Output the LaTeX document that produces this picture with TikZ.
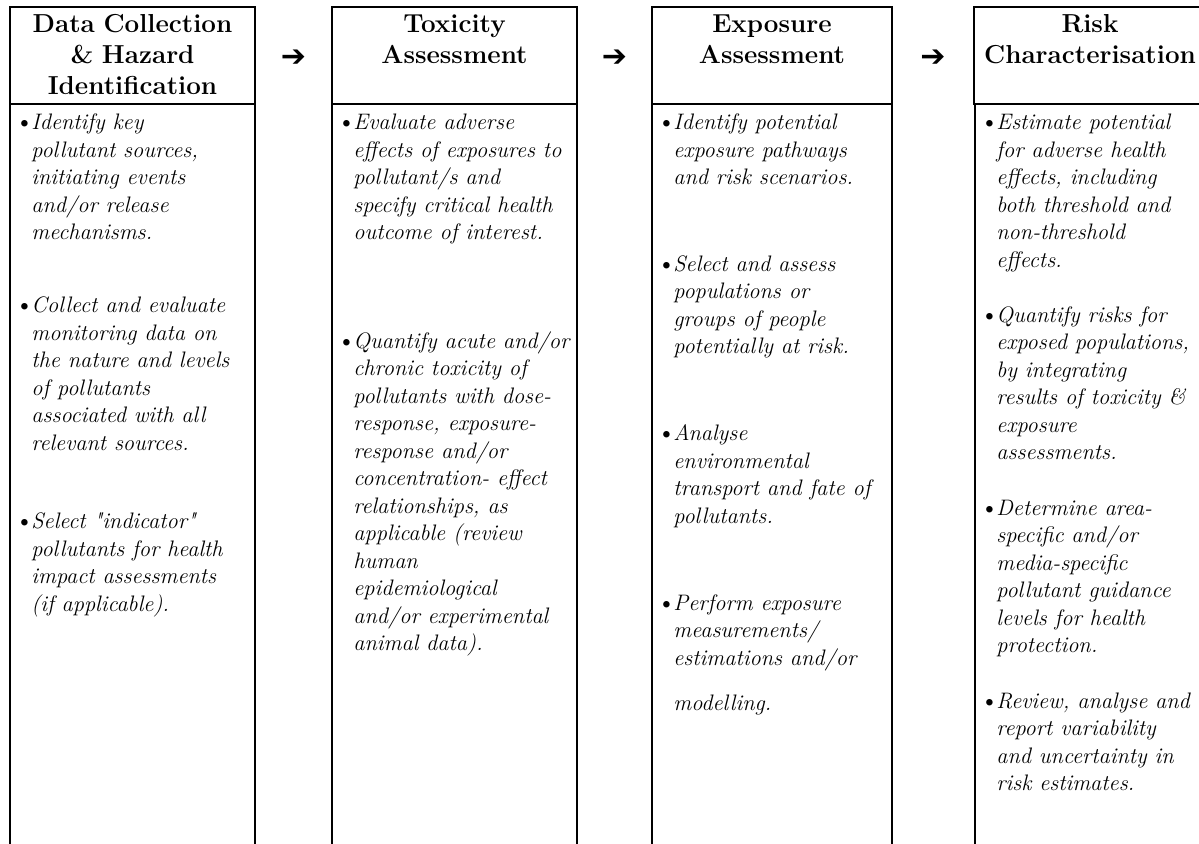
\documentclass[tikz,border=0pt]{standalone}
\usepackage{fontspec}
\newfontfamily\dejavu{DejaVu Sans}
\usetikzlibrary{positioning, calc}

% bullet with hanging indent
\newcommand{\pitem}[1]{\strut\makebox[8pt][l]{\upshape\fontsize{12}{12}\selectfont\textbullet}\parbox[t]{120pt}{\raggedright\strut #1\strut}}

\tikzset{
  head/.style={draw, line width=1.3pt, outer sep=0pt, inner sep=0pt, minimum width=#1,
    minimum height=48.5pt, text width=116pt, text height=13pt, text depth=35.5pt,
    align=center, font=\fontsize{13}{15.5}\selectfont\bfseries},
  head/.default=122.5pt,
  body/.style={draw, line width=1.3pt, outer sep=0pt, inner sep=0pt, minimum width=#1,
    minimum height=400pt},
  body/.default=122.5pt,
  entry/.style={anchor=north west, inner sep=0pt,
    font=\fontsize{11.2}{13.75}\selectfont\itshape},
  arr/.style={font=\dejavu\bfseries\fontsize{15}{15}\selectfont, inner sep=0pt, yshift=-1.5pt}
}

\begin{document}
\begin{tikzpicture}[x=0.5pt, y=-0.5pt]
    \useasboundingbox (0,0) rectangle (1199,844);
    \clip (0,0) rectangle (1199,844);

    % Column headers
    \node [head, anchor=north west] (h1) at (10,7) {Data Collection\\ \& Hazard\\ Identification};
    \node [head, right=38.5pt of h1] (h2) {Toxicity\\ Assessment};
    \node [head=120pt, right=37.5pt of h2] (h3) {Exposure\\ Assessment};
    \node [head=115pt, right=41pt of h3] (h4) {Risk\\ Characterisation};

    % Arrows between headers
    \node [arr] (a12) at ($(h1.east)!0.5!(h2.west)$) {➔};
    \node [arr] (a23) at ($(h2.east)!0.5!(h3.west)$) {➔};
    \node [arr] (a34) at ($(h3.east)!0.5!(h4.west)$) {➔};

    % Column bodies (open at the bottom)
    \node [body, below=0pt of h1] (b1) {};
    \node [body, below=0pt of h2] (b2) {};
    \node [body=120pt, below=0pt of h3] (b3) {};
    \node [body=115pt, below=0pt of h4] (b4) {};

    % Data collection & hazard identification
    \node [entry, below right=3pt and 2.5pt of b1.north west] (p11)
        {\pitem{Identify key\\ pollutant sources,\\ initiating events\\ and/or release\\ mechanisms.}};
    \node [below=22.5pt of p11.south west, entry] (p12)
        {\pitem{Collect and evaluate\\ monitoring data on\\ the nature and levels\\ of pollutants\\ associated with all\\ relevant sources.}};
    \node [below=25pt of p12.south west, entry] (p13)
        {\pitem{Select \textquotedbl indicator\textquotedbl\\ pollutants for health\\ impact assessments\\ (if applicable).}};

    % Toxicity assessment
    \node [entry, below right=3pt and 2.5pt of b2.north west] (p21)
        {\pitem{Evaluate adverse\\ effects of exposures to\\ pollutant/s and\\ specify critical health\\ outcome of interest.}};
    \node [below=40.25pt of p21.south west, entry] (p22)
        {\pitem{Quantify acute and/or\\ chronic toxicity of\\ pollutants with dose-\\ response, exposure-\\ response and/or\\ concentration- effect\\ relationships, as\\ applicable (review\\ human\\ epidemiological\\ and/or experimental\\ animal data).}};

    % Exposure assessment
    \node [entry, below right=3pt and 2.5pt of b3.north west] (p31)
        {\pitem{Identify potential\\ exposure pathways\\ and risk scenarios.}};
    \node [below=29.25pt of p31.south west, entry] (p32)
        {\pitem{Select and assess\\ populations or\\ groups of people\\ potentially at risk.}};
    \node [below=29.25pt of p32.south west, entry] (p33)
        {\pitem{Analyse\\ environmental\\ transport and fate of\\ pollutants.}};
    \node [below=29.25pt of p33.south west, entry] (p34)
        {\pitem{Perform exposure\\ measurements/\\ estimations and/or\\[8.75pt] modelling.}};

    % Risk characterisation
    \node [entry, below right=3pt and 2.5pt of b4.north west] (p41)
        {\pitem{Estimate potential\\ for adverse health\\ effects, including\\ both threshold and\\ non-threshold\\ effects.}};
    \node [below=13.5pt of p41.south west, entry] (p42)
        {\pitem{Quantify risks for\\ exposed populations,\\ by integrating\\ results of toxicity \&\\ exposure\\ assessments.}};
    \node [below=13.5pt of p42.south west, entry] (p43)
        {\pitem{Determine area-\\ specific and/or\\ media-specific\\ pollutant guidance\\ levels for health\\ protection.}};
    \node [below=13.5pt of p43.south west, entry] (p44)
        {\pitem{Review, analyse and\\ report variability\\ and uncertainty in\\ risk estimates.}};
\end{tikzpicture}
\end{document}
